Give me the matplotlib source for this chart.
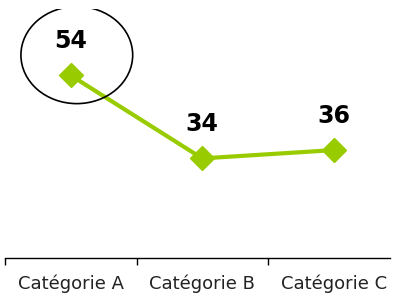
import numpy as np
import matplotlib
matplotlib.use("Agg")
import matplotlib.pyplot as plt
from matplotlib.patches import Ellipse

# Data
categories = ["Catégorie A", "Catégorie B", "Catégorie C"]
values = [54, 34, 36]

line_color = "#99CC00"

fig = plt.figure(figsize=(3.97, 2.97), dpi=100)
ax = fig.add_axes([5 / 397, 39 / 297, 394.5 / 397, 249 / 297])

x = np.arange(len(categories))
ax.plot(x, values, color=line_color, lw=3, marker="D", ms=12,
        solid_capstyle="butt", zorder=3)

# value labels above the markers
for xi, v in zip(x, values):
    ax.annotate(str(v), (xi, v), xytext=(0, 16), textcoords="offset points",
                ha="center", va="bottom", fontsize=17, fontweight="heavy",
                color="black")

# circle around the first point
ax.add_patch(Ellipse((0.046, 58.9), 0.85, 23.4, fill=False,
                     edgecolor="black", lw=1.2, zorder=4))

ax.set_xlim(-0.5, 2.5)
ax.set_ylim(10, 70)

# category labels at centres, tick marks at boundaries
ax.set_xticks(x)
ax.set_xticklabels(categories, fontsize=13, color="#222222")
ax.tick_params(axis="x", which="major", length=0, pad=12)
ax.set_xticks([-0.5, 0.5, 1.5, 2.5], minor=True)
ax.tick_params(axis="x", which="minor", length=5, width=1, direction="out")
ax.set_yticks([])

for side in ["top", "right", "left"]:
    ax.spines[side].set_visible(False)
ax.spines["bottom"].set_linewidth(1)
ax.spines["bottom"].set_bounds(-0.5, 2.43)

fig.savefig("out.png", dpi=100)
